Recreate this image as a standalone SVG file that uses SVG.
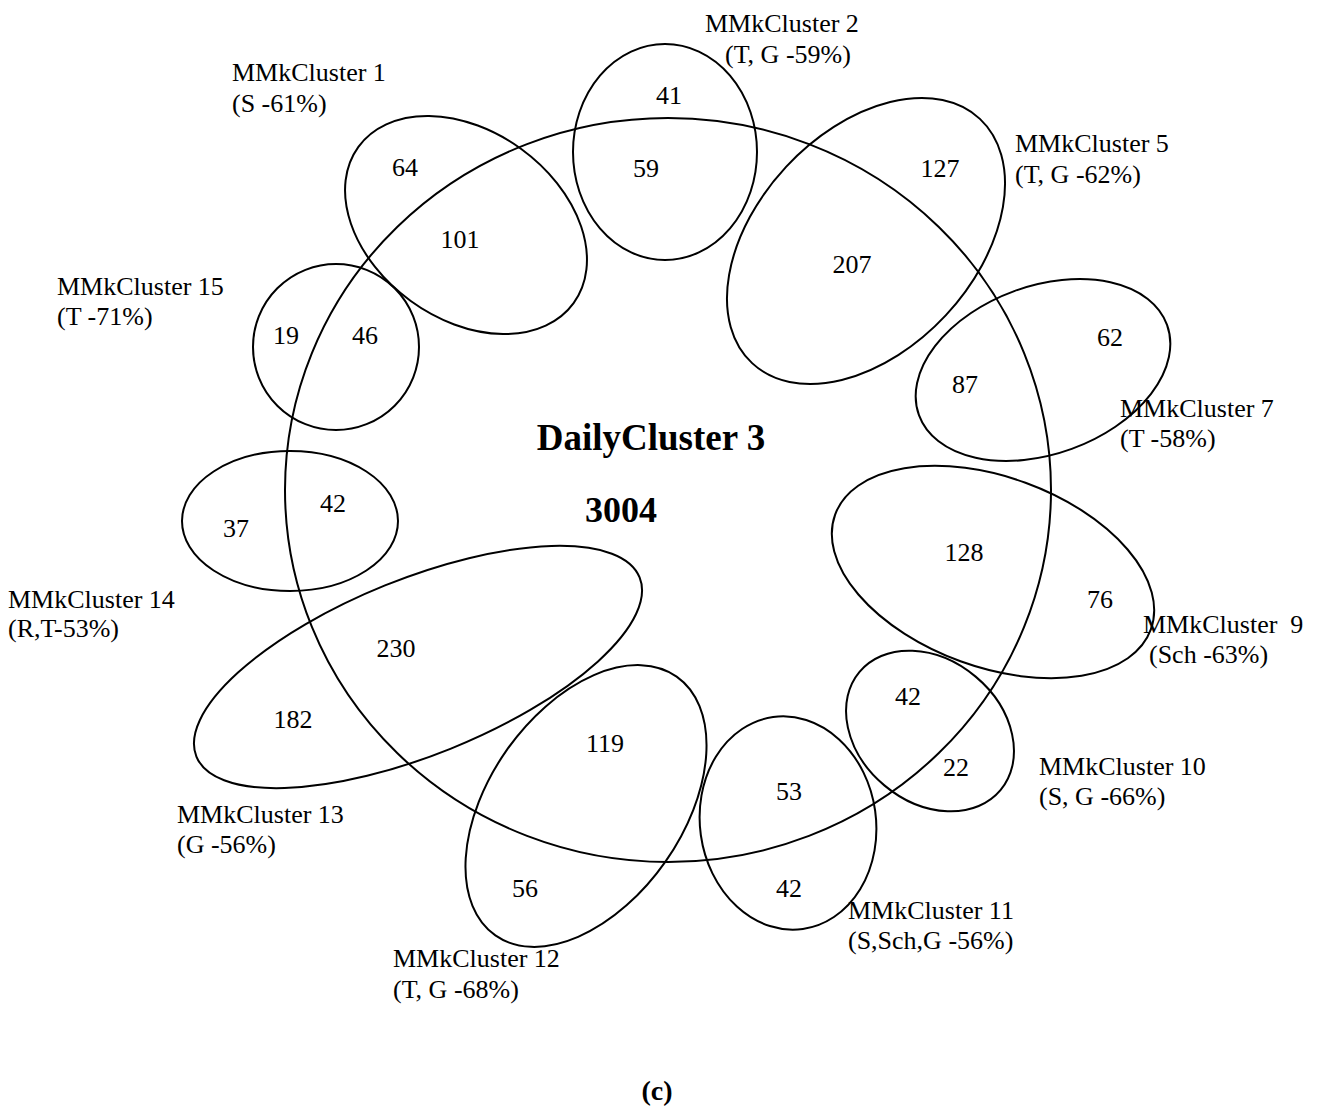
<svg xmlns="http://www.w3.org/2000/svg" width="1326" height="1109" viewBox="0 0 1326 1109">
<style>
.shape{fill:none;stroke:#000;stroke-width:2}
.lbl{font-family:"Liberation Serif","Times New Roman",serif;font-size:26px;fill:#000}
.num{font-family:"Liberation Serif","Times New Roman",serif;font-size:26px;fill:#000;text-anchor:middle}
.big{font-family:"Liberation Serif","Times New Roman",serif;font-weight:bold;fill:#000;text-anchor:middle}
</style>
<rect width="1326" height="1109" fill="#fff"/>
<g id="daily-cluster-3">
<ellipse class="shape" cx="668" cy="490" rx="383" ry="372"/>
<text class="big" x="651" y="450" font-size="37">DailyCluster 3</text>
<text class="big" x="621" y="522" font-size="36">3004</text>
</g>
<g id="mmk1">
<ellipse class="shape" cx="466" cy="225" rx="133" ry="94" transform="rotate(36 466 225)"/>
<text class="num" x="405" y="176">64</text>
<text class="num" x="460" y="248">101</text>
<text class="lbl" x="232" y="81">MMkCluster 1</text>
<text class="lbl" x="232" y="112">(S -61%)</text>
</g>
<g id="mmk2">
<ellipse class="shape" cx="665" cy="152" rx="92" ry="108"/>
<text class="num" x="669" y="104">41</text>
<text class="num" x="646" y="177">59</text>
<text class="lbl" x="705" y="32">MMkCluster 2</text>
<text class="lbl" x="725" y="63">(T, G -59%)</text>
</g>
<g id="mmk5">
<ellipse class="shape" cx="866" cy="241" rx="167" ry="109" transform="rotate(-47 866 241)"/>
<text class="num" x="940" y="177">127</text>
<text class="num" x="852" y="273">207</text>
<text class="lbl" x="1015" y="152">MMkCluster 5</text>
<text class="lbl" x="1015" y="183">(T, G -62%)</text>
</g>
<g id="mmk7">
<ellipse class="shape" cx="1043" cy="370" rx="132" ry="84" transform="rotate(-20 1043 370)"/>
<text class="num" x="965" y="393">87</text>
<text class="num" x="1110" y="346">62</text>
<text class="lbl" x="1120" y="417">MMkCluster 7</text>
<text class="lbl" x="1120" y="447">(T -58%)</text>
</g>
<g id="mmk9">
<ellipse class="shape" cx="993" cy="572" rx="168" ry="95" transform="rotate(20 993 572)"/>
<text class="num" x="964" y="561">128</text>
<text class="num" x="1100" y="608">76</text>
<text class="lbl" x="1143" y="633" xml:space="preserve">MMkCluster  9</text>
<text class="lbl" x="1149" y="663">(Sch -63%)</text>
</g>
<g id="mmk10">
<ellipse class="shape" cx="930" cy="731" rx="92" ry="71" transform="rotate(40 930 731)"/>
<text class="num" x="908" y="705">42</text>
<text class="num" x="956" y="776">22</text>
<text class="lbl" x="1039" y="775">MMkCluster 10</text>
<text class="lbl" x="1039" y="805">(S, G -66%)</text>
</g>
<g id="mmk11">
<ellipse class="shape" cx="788" cy="823" rx="88" ry="107" transform="rotate(-8 788 823)"/>
<text class="num" x="789" y="800">53</text>
<text class="num" x="789" y="897">42</text>
<text class="lbl" x="848" y="919">MMkCluster 11</text>
<text class="lbl" x="848" y="949">(S,Sch,G -56%)</text>
</g>
<g id="mmk12">
<ellipse class="shape" cx="586" cy="806" rx="158" ry="97" transform="rotate(-55 586 806)"/>
<text class="num" x="605" y="752">119</text>
<text class="num" x="525" y="897">56</text>
<text class="lbl" x="393" y="967">MMkCluster 12</text>
<text class="lbl" x="393" y="998">(T, G -68%)</text>
</g>
<g id="mmk13">
<ellipse class="shape" cx="418" cy="667" rx="239" ry="88" transform="rotate(-22 418 667)"/>
<text class="num" x="396" y="657">230</text>
<text class="num" x="293" y="728">182</text>
<text class="lbl" x="177" y="823">MMkCluster 13</text>
<text class="lbl" x="177" y="853">(G -56%)</text>
</g>
<g id="mmk14">
<ellipse class="shape" cx="290" cy="521" rx="108" ry="70"/>
<text class="num" x="236" y="537">37</text>
<text class="num" x="333" y="512">42</text>
<text class="lbl" x="8" y="608">MMkCluster 14</text>
<text class="lbl" x="8" y="637">(R,T-53%)</text>
</g>
<g id="mmk15">
<circle class="shape" cx="336" cy="347" r="83"/>
<text class="num" x="286" y="344">19</text>
<text class="num" x="365" y="344">46</text>
<text class="lbl" x="57" y="295">MMkCluster 15</text>
<text class="lbl" x="57" y="325">(T -71%)</text>
</g>
<g id="caption">
<text class="big" x="657" y="1100" font-size="28">(c)</text>
</g>
</svg>
